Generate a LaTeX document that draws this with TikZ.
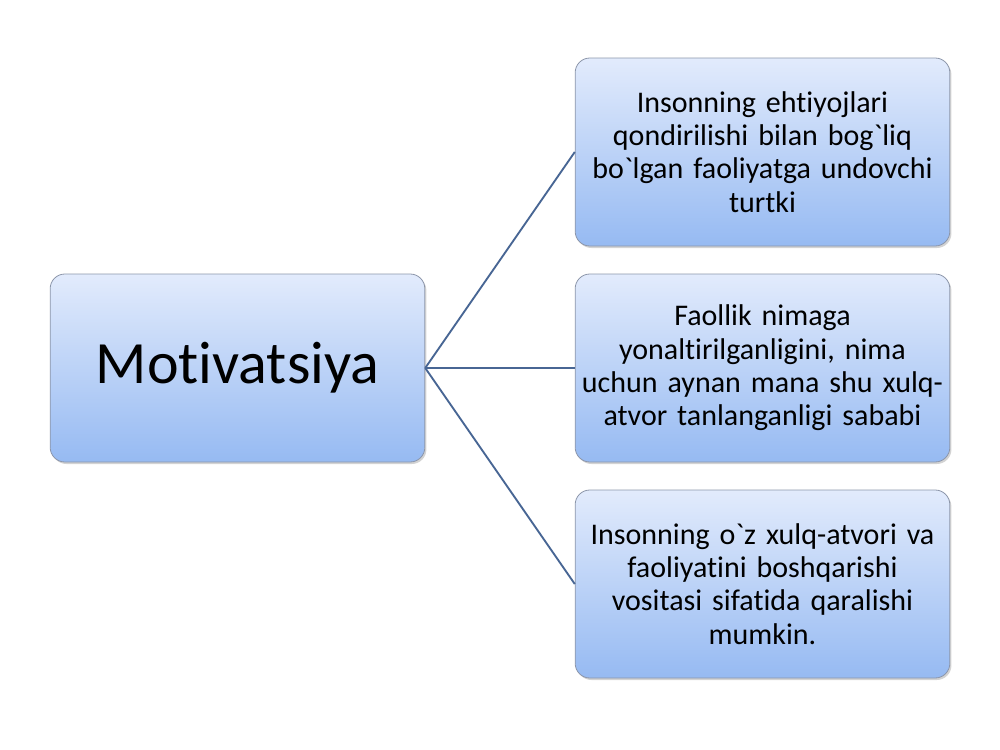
\documentclass[tikz,border=0pt]{standalone}
\usepackage{fontspec}
\setmainfont{Carlito}[Ligatures={NoCommon,NoContextual}]
\usetikzlibrary{shadows}

\definecolor{boxtop}{RGB}{226,235,252}
\definecolor{boxbot}{RGB}{150,186,242}
\definecolor{boxline}{RGB}{140,150,170}
\definecolor{linkcol}{RGB}{72,102,148}

\tikzset{
  mbox/.style={draw=boxline, line width=0.6pt, rounded corners=11pt,
    top color=boxtop, bottom color=boxbot,
    minimum width=281pt, minimum height=141pt,
    drop shadow={opacity=0.35, shadow xshift=1.2pt, shadow yshift=-1.5pt},
    inner sep=0pt},
  mtext/.style={mbox, align=center, text width=272pt,
    font=\fontsize{22.5pt}{25pt}\selectfont},
  link/.style={draw=linkcol, line width=1.4pt}
}

\begin{document}
\begin{tikzpicture}[x=0.75pt,y=0.75pt,yscale=-1,xscale=1]
\useasboundingbox (0,0) rectangle (1000,750);

% main box
\node [mbox, font=\fontsize{45pt}{48pt}\selectfont] (motiv) at (237.5,368) {Motivatsiya};

% right boxes
\node [mtext] (need) at (762.5,152) {Insonning ehtiyojlari\\ qondirilishi bilan bog\textasciigrave liq\\ bo\textasciigrave lgan faoliyatga undovchi\\ turtki};
\node [mtext] (aim) at (762.5,368) {Faollik nimaga\\ yonaltirilganligini, nima\\ uchun aynan mana shu xulq-\\ atvor tanlanganligi sababi};
\node [mtext] (ctrl) at (762.5,584) {Insonning o\textasciigrave z xulq-atvori va\\ faoliyatini boshqarishi\\ vositasi sifatida qaralishi\\ mumkin.};

% connectors
\draw [link] (motiv.east) -- (need.west);
\draw [link] (motiv.east) -- (aim.west);
\draw [link] (motiv.east) -- (ctrl.west);

\end{tikzpicture}
\end{document}
